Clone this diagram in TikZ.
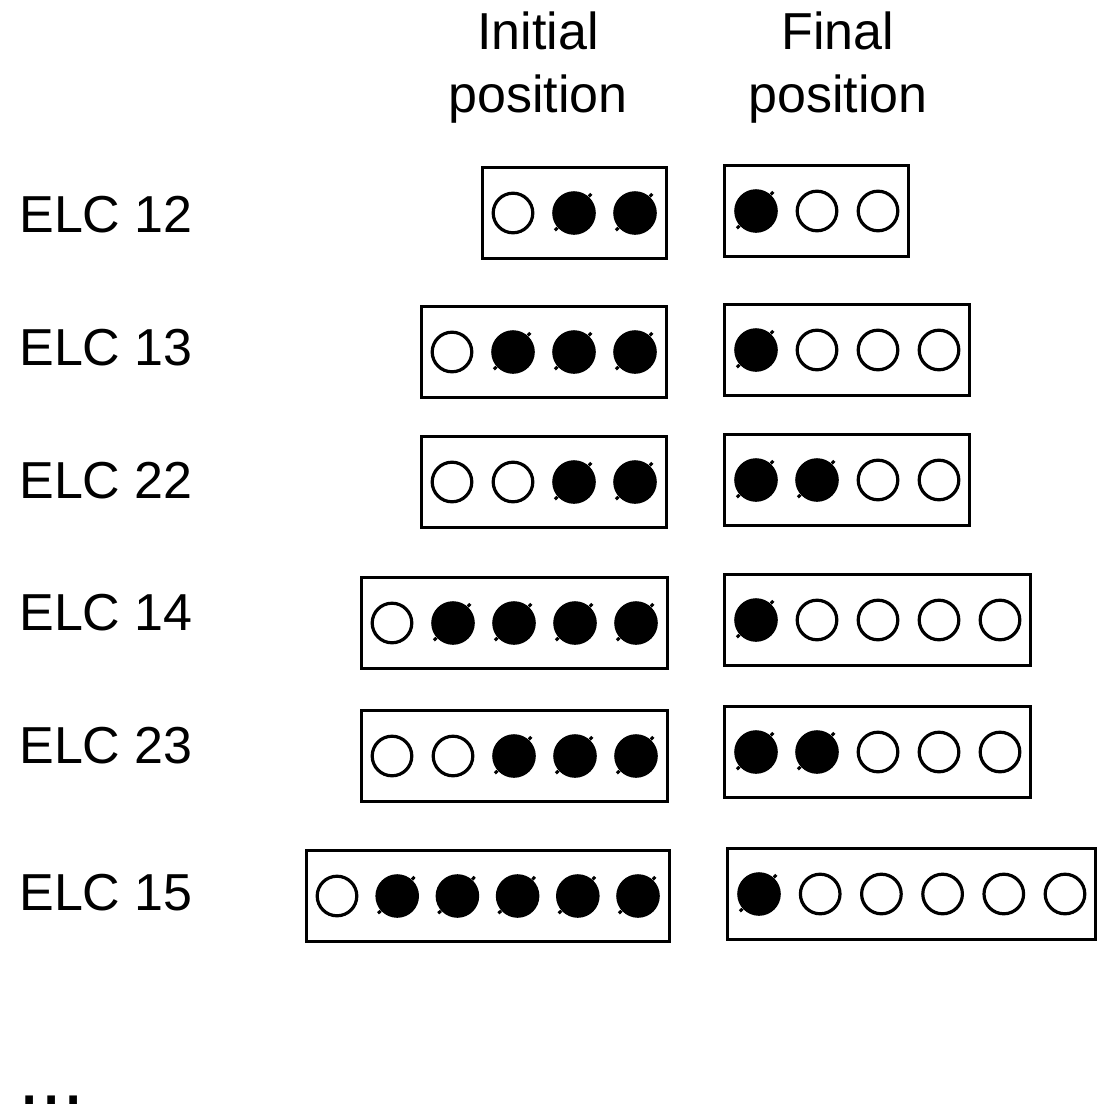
\documentclass[tikz,border=0pt]{standalone}
\usepackage{fontspec}
\setmainfont{Liberation Sans}
\usetikzlibrary{fit}
\tikzset{
  c0/.style={circle,draw,line width=1.6pt,minimum size=19.8pt,inner sep=0pt},
  c1/.style={circle,fill,minimum size=21.8pt,inner sep=0pt},
  tick/.style={line width=1.5pt},
  box/.style={draw,line width=1.6pt,inner xsep=4.5pt,inner ysep=11.5pt},
  lbl/.style={font=\fontsize{26}{31.5}\selectfont,inner sep=0pt},
}
\newcommand\crow[5]{%
  \foreach \s [count=\i] in {#5} {
    \node[c\s] (#1\i) at ({#2+(\i-1)*#4},#3) {};
    \ifnum\s=1 \draw[tick] (#1\i.48) -- ++(48:1.8pt) (#1\i.222) -- ++(222:1.8pt); \fi
  }%
}
\begin{document}
\begin{tikzpicture}[x=0.5pt,y=-0.5pt]
\useasboundingbox (0,0) rectangle (1099,1119);
% headers
\node[lbl,align=center] (hinit) at (538,68) {Initial\\position};
\node[lbl,align=center] (hfin) at (838,68) {Final\\position};
% ELC 12
\node[lbl,anchor=west] (l12) at (19,215) {ELC 12};
\crow{a}{513}{213}{61}{0,1,1}
\node[box,fit=(a1)(a3)] (abox) {};
\crow{b}{756}{211}{61}{1,0,0}
\node[box,fit=(b1)(b3)] (bbox) {};
% ELC 13
\node[lbl,anchor=west] (l13) at (19,348) {ELC 13};
\crow{c}{452}{352}{61}{0,1,1,1}
\node[box,fit=(c1)(c4)] (cbox) {};
\crow{d}{756}{350}{61}{1,0,0,0}
\node[box,fit=(d1)(d4)] (dbox) {};
% ELC 22
\node[lbl,anchor=west] (l22) at (19,481) {ELC 22};
\crow{e}{452}{482}{61}{0,0,1,1}
\node[box,fit=(e1)(e4)] (ebox) {};
\crow{f}{756}{480}{61}{1,1,0,0}
\node[box,fit=(f1)(f4)] (fbox) {};
% ELC 14
\node[lbl,anchor=west] (l14) at (19,613) {ELC 14};
\crow{g}{392}{623}{61}{0,1,1,1,1}
\node[box,fit=(g1)(g5)] (gbox) {};
\crow{h}{756}{620}{61}{1,0,0,0,0}
\node[box,fit=(h1)(h5)] (hbox) {};
% ELC 23
\node[lbl,anchor=west] (l23) at (19,746) {ELC 23};
\crow{i}{392}{756}{61}{0,0,1,1,1}
\node[box,fit=(i1)(i5)] (ibox) {};
\crow{j}{756}{752}{61}{1,1,0,0,0}
\node[box,fit=(j1)(j5)] (jbox) {};
% ELC 15
\node[lbl,anchor=west] (l15) at (19,893) {ELC 15};
\crow{k}{337}{896}{60.2}{0,1,1,1,1,1}
\node[box,fit=(k1)(k6)] (kbox) {};
\crow{m}{759}{894}{61.2}{1,0,0,0,0,0}
\node[box,fit=(m1)(m6)] (mbox) {};
% ellipsis
\node[inner sep=0pt,anchor=base west,font=\fontsize{40}{44}\selectfont] (dots) at (18,1104) {...};
\end{tikzpicture}
\end{document}
